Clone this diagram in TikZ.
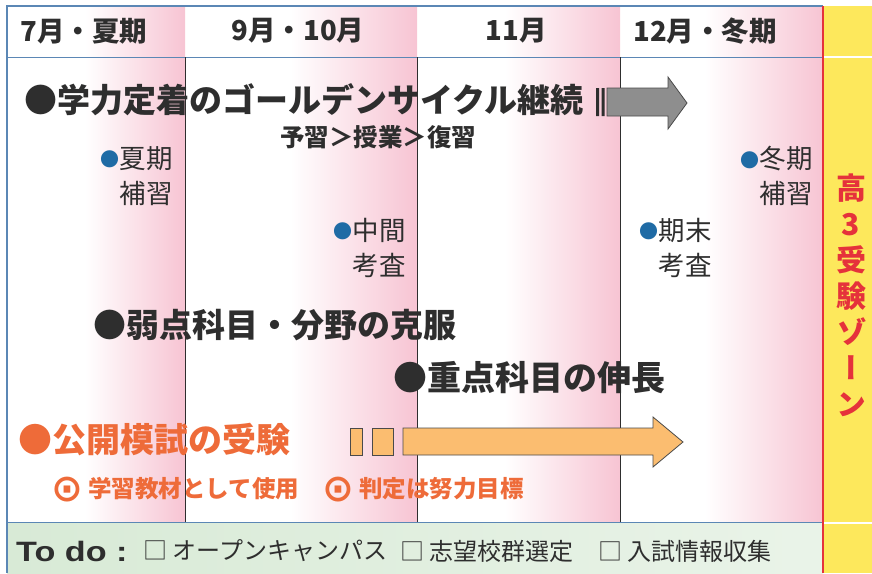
\documentclass[tikz,border=0pt]{standalone}
\usepackage{fontspec}
\setmainfont{Noto Sans CJK JP}
\newfontfamily\vertfont[RawFeature=+vert]{Noto Sans CJK JP}
\newfontfamily\symfont{DejaVu Sans}
\newfontfamily\todofont[FakeStretch=1.22]{Liberation Sans}
\usetikzlibrary{positioning}

\definecolor{framebl}{HTML}{5B87B5}
\definecolor{pinkcol}{HTML}{F7C4D3}
\definecolor{zoneyel}{HTML}{FDE85C}
\definecolor{zonered}{HTML}{E5323B}
\definecolor{textgr}{HTML}{2E2E2E}
\definecolor{dotblue}{HTML}{1F6BA5}
\definecolor{mockor}{HTML}{EE6B39}
\definecolor{arrowor}{HTML}{FBBD70}
\definecolor{arrowgr}{HTML}{8E8E8E}
\definecolor{arrowln}{HTML}{4A4A4A}
\definecolor{todogr}{HTML}{D8EAD6}

\newcommand{\evdot}{{\color{dotblue}\fontsize{19}{19}\selectfont\raisebox{1.5pt}{●}}}
\newcommand{\mockmark}{{\symfont\fontsize{38}{25}\selectfont\raisebox{-4pt}{⊙}}}

\begin{document}
\begin{tikzpicture}[x=1pt, y=-1pt,
    month/.style={font=\fontsize{27.5}{28}\selectfont\bfseries, text=textgr, inner sep=0pt},
    goal/.style={font=\fontsize{33}{36}\selectfont\bfseries, text=textgr, anchor=west, inner sep=0pt},
    exam/.style={font=\fontsize{26.5}{35}\selectfont, text=textgr, align=right, anchor=north east, inner sep=0pt},
    note/.style={font=\fontsize{23.5}{25}\selectfont\bfseries, text=mockor, anchor=west, inner sep=0pt},
    todo/.style={font=\fontsize{24}{25}\selectfont, text=textgr, anchor=west, inner sep=0pt},
    zone/.style={font=\vertfont\fontsize{30}{36}\selectfont\bfseries, text=zonered, align=center, inner sep=0pt},
    blockarrow/.style={draw=arrowln, line width=0.8pt, line join=miter}]
    \useasboundingbox (0,0) rectangle (872,573);

    \foreach \a/\b in {85/185, 290/417, 505/620, 705/823}
        \shade[left color=white, right color=pinkcol] (\a,6) rectangle (\b,522);
    \shade[left color=todogr, right color=todogr!55] (7,522) rectangle (823,573);
    \fill[zoneyel] (823,6) rectangle (872,573);
    \draw[white, line width=2pt] (824,57) -- (872,57) (824,523) -- (872,523);

    \draw[framebl, line width=1.2pt] (7,573) -- (7,6) -- (823,6);
    \draw[framebl, line width=1pt] (7,57) -- (823,57) (7,522) -- (823,522);
    \foreach \x in {185, 417, 620}
        \draw[textgr, line width=0.7pt] (\x,57) -- (\x,522);
    \draw[zonered, line width=1.5pt] (823,6) -- (823,573);

    \node[month] (m1) at (84,31) {7月・夏期};
    \node[month] (m2) at (298,31) {9月・10月};
    \node[month] (m3) at (516,31) {11月};
    \node[month] (m4) at (705,31) {12月・冬期};

    \node[goal] (g1) at (24,100) {●学力定着のゴールデンサイクル継続};
    \node[font=\fontsize{24.5}{25}\selectfont\bfseries, text=textgr, inner sep=0pt] (c1) at (378,137) {予習＞授業＞復習};

    \fill[textgr] (596,88) rectangle (599,116) (601.5,88) rectangle (604.5,116);
    \filldraw[blockarrow, fill=arrowgr] (607,88) -- (668,88) -- (668,77) -- (687,103)
        -- (668,129) -- (668,116) -- (607,116) -- cycle;

    \node[exam] (e1) at (173,146) {\evdot 夏期\\補習};
    \node[exam] (e2) at (406,218) {\evdot 中間\\考査};
    \node[exam] (e3) at (712,218) {\evdot 期末\\考査};
    \node[exam] (e4) at (813,146) {\evdot 冬期\\補習};

    \node[goal] (g2) at (93,325) {●弱点科目・分野の克服};
    \node[goal, font=\fontsize{34}{36}\selectfont\bfseries] (g3) at (393,378) {●重点科目の伸長};
    \node[goal, font=\fontsize{34}{36}\selectfont\bfseries, text=mockor] (g4) at (18,440) {●公開模試の受験};

    \filldraw[blockarrow, fill=arrowor] (350,428) rectangle (362,455) (372,428) rectangle (393,455);
    \filldraw[blockarrow, fill=arrowor] (403,428) -- (653,428) -- (653,417) -- (683,442)
        -- (653,467) -- (653,455) -- (403,455) -- cycle;

    \node[note] (n1) at (51,490) {\mockmark\ 学習教材として使用};
    \node[note] (n2) at (322,490) {\mockmark\ 判定は努力目標};

    \node[todo, font=\todofont\fontsize{28}{28}\selectfont\bfseries] (t0) at (16,551) {To do :};
    \node[todo] (t1) at (143,551) {□ オープンキャンパス};
    \node[todo] (t2) at (400,551) {□ 志望校群選定};
    \node[todo] (t3) at (598,551) {□ 入試情報収集};

    \node[zone] (z1) at (851,295) {高\\3\\受\\験\\ゾ\\ー\\ン};
\end{tikzpicture}
\end{document}
